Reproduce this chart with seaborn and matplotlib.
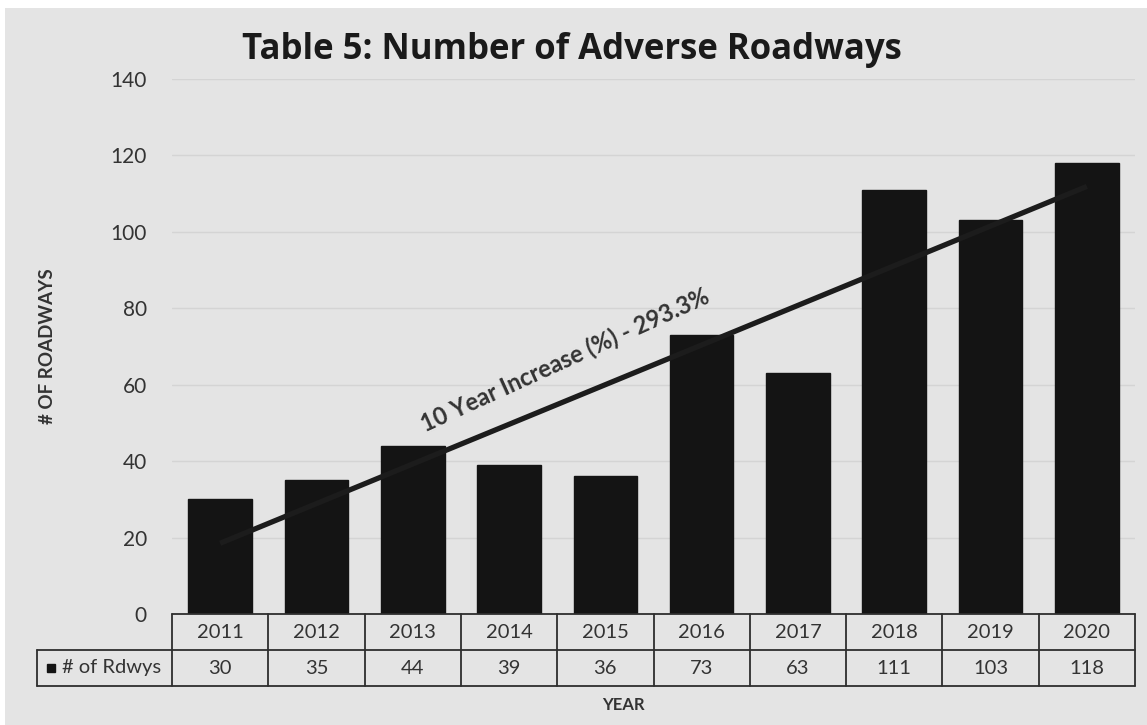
import numpy as np
import pandas as pd
import matplotlib
matplotlib.use("Agg")
import matplotlib.pyplot as plt
import matplotlib.transforms as mtransforms
from matplotlib.patches import Rectangle
import seaborn as sns

# Data
years = ["2011", "2012", "2013", "2014", "2015", "2016", "2017", "2018", "2019", "2020"]
roadways = [30, 35, 44, 39, 36, 73, 63, 111, 103, 118]
y_ticks = [0, 20, 40, 60, 80, 100, 120, 140]
series_label = "# of Rdwys"
title = "Table 5: Number of Adverse Roadways"
trend_note = "10 Year Increase (%) - 293.3%"

sns.set_style("white")
plt.rcParams["font.family"] = ["Lato", "DejaVu Sans"]

BG = "#e4e4e4"
BAR = "#141414"
TXT = "#333333"

df = pd.DataFrame({"year": years, "count": roadways})

W, H = 1147, 725
fig = plt.figure(figsize=(W / 100, H / 100), dpi=100, facecolor=BG)
# thin white margin along the top and left edges
fig.patches.append(Rectangle((0, 1 - 8 / H), 1, 8 / H, transform=fig.transFigure,
                             facecolor="white", edgecolor="none", zorder=-1))
fig.patches.append(Rectangle((0, 0), 5 / W, 1, transform=fig.transFigure,
                             facecolor="white", edgecolor="none", zorder=-1))

left, right, top, bottom = 172 / W, 1135 / W, 79 / H, 614 / H
ax = fig.add_axes([left, 1 - bottom, right - left, bottom - top])
ax.set_facecolor(BG)

sns.barplot(data=df, x="year", y="count", color=BAR, width=0.66, saturation=1,
            edgecolor=BAR, ax=ax, zorder=3)

ax.set_ylim(0, 140)
ax.set_xlim(-0.5, len(years) - 0.5)
ax.set_yticks(y_ticks)
ax.set_yticklabels([str(t) for t in y_ticks], fontsize=15, color=TXT)
ax.tick_params(axis="y", length=0, pad=18)
ax.set_xticks([])
ax.set_xlabel("")
ax.set_ylabel("")
for y in y_ticks[1:]:
    ax.axhline(y, color="#d4d4d4", lw=1.0, zorder=1)
for s in ax.spines.values():
    s.set_visible(False)

# linear trend line across the ten years
xs = np.arange(len(roadways))
slope, intercept = np.polyfit(xs, roadways, 1)
trend = slope * xs + intercept
ax.plot(xs, trend, color="#1c1c1c", lw=3.8, solid_capstyle="butt", zorder=5)

ax.text(3.58, 66.5, trend_note, rotation=24.5, rotation_mode="anchor", ha="center", va="center",
        fontsize=17, fontweight="bold", color="#333333", zorder=6)

# title and axis titles
fig.text(572 / W, 1 - 50 / H, title, ha="center", va="center", fontsize=25,
         fontweight="bold", color="#1a1a1a", family=["Open Sans", "DejaVu Sans"])
fig.text(48 / W, 1 - 346 / H, "# OF ROADWAYS", ha="center", va="center", rotation=90,
         fontsize=13.5, fontweight="bold", color="#333333")
fig.text(623 / W, 1 - 705 / H, "YEAR", ha="center", va="center",
         fontsize=12, fontweight="bold", color="#333333")

# data table under the plot
trans = mtransforms.blended_transform_factory(ax.transData, ax.transAxes)
row_h = 36 / (bottom - top) / H
r0, r1, r2 = 0.0, -row_h, -2 * row_h
n = len(years)
label_left = -0.5 - (172 - 37) / ((right - left) * W / n)
lc = "#2e2e2e"
lw = 1.3
kw = dict(transform=trans, clip_on=False, color=lc, lw=lw, zorder=6)
ax.plot([-0.5, n - 0.5], [r0, r0], **kw)
ax.plot([label_left, n - 0.5], [r1, r1], **kw)
ax.plot([label_left, n - 0.5], [r2, r2], **kw)
ax.plot([label_left, label_left], [r1, r2], **kw)
for i in range(n + 1):
    ax.plot([i - 0.5, i - 0.5], [r0, r2], **kw)
for i, (yr, v) in enumerate(zip(years, roadways)):
    ax.text(i, (r0 + r1) / 2, yr, transform=trans, ha="center", va="center",
            fontsize=14.5, color=TXT, clip_on=False)
    ax.text(i, (r1 + r2) / 2, str(v), transform=trans, ha="center", va="center",
            fontsize=14.5, color=TXT, clip_on=False)
# legend key square in the row header
ax.add_patch(Rectangle((label_left + 0.1, (r1 + r2) / 2 - 0.008), 0.09, 0.016,
                       transform=trans, clip_on=False, facecolor=BAR, edgecolor=BAR, zorder=7))
ax.text(label_left + 0.26, (r1 + r2) / 2, series_label, transform=trans, ha="left",
        va="center", fontsize=14.5, color=TXT, clip_on=False)

fig.savefig("out.png", dpi=100, facecolor=fig.get_facecolor())
